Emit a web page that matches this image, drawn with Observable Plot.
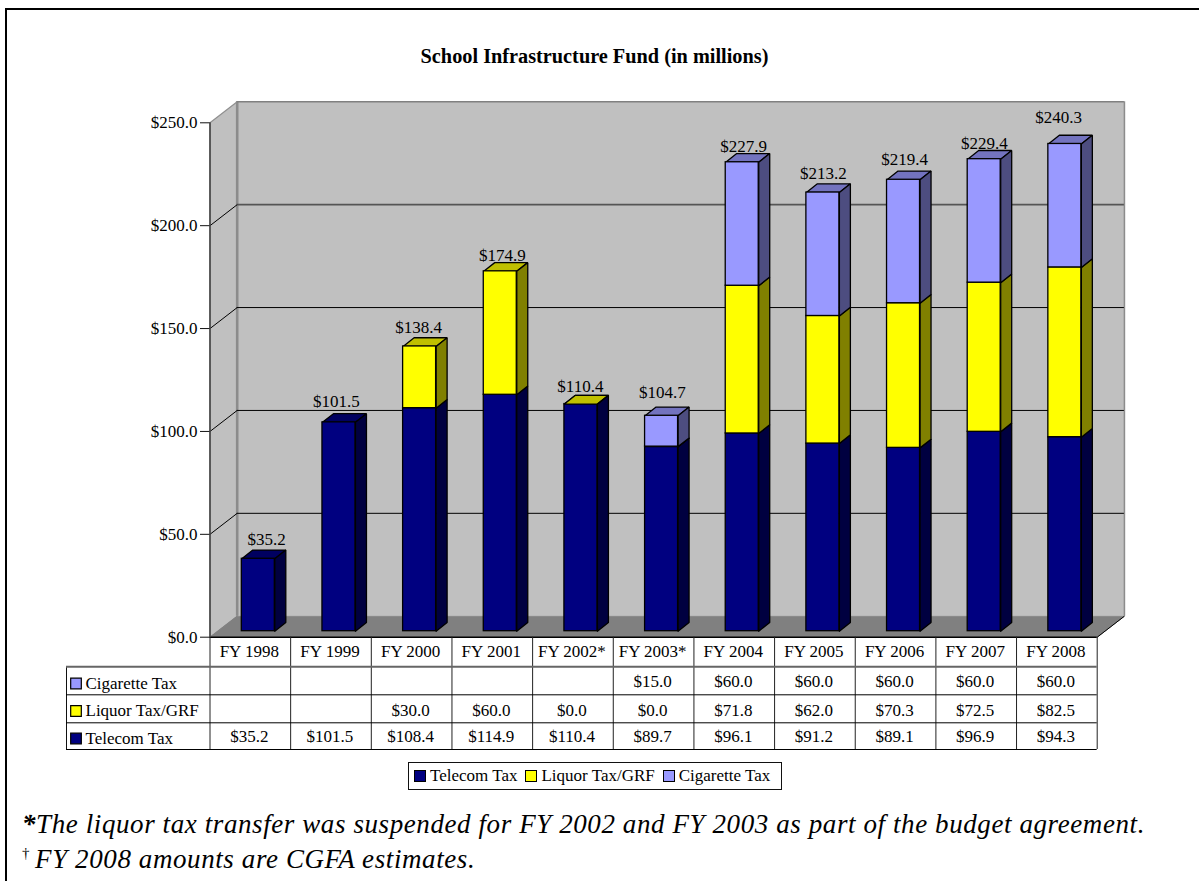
<!DOCTYPE html>
<html>
<head>
<meta charset="utf-8">
<script src="https://cdn.jsdelivr.net/npm/d3@7"></script>
<script src="https://cdn.jsdelivr.net/npm/@observablehq/plot@0.6"></script>
<style>
  html, body { margin: 0; padding: 0; background: #fff; }
  #page { position: relative; width: 1199px; height: 882px; overflow: hidden; font-family: "Liberation Serif", serif; color: #000; }
  #edgeTop { position: absolute; left: 5px; right: 0; top: 8px; height: 2px; background: #000; }
  #edgeLeft { position: absolute; left: 5px; top: 8px; bottom: 1px; width: 2px; background: #000; }
  #title { position: absolute; left: 0; width: 1189px; top: 46px; text-align: center; font-weight: bold; font-size: 20.3px; line-height: 20px; }
  #chart { position: absolute; left: 0; top: 90px; }
  #chart svg { display: block; }
  #legend { position: absolute; left: 408px; top: 762px; width: 372px; height: 26px; border: 1px solid #111; display: flex; align-items: center; font-size: 17px; }
  #legend .item { display: flex; align-items: center; margin-left: 5px; margin-right: 3px; }
  #legend .swatch { width: 10px; height: 10px; border: 1px solid #000; margin-right: 4px; }
  #notes { position: absolute; left: 22px; top: 807px; font-style: italic; font-size: 27px; letter-spacing: 0.59px; line-height: 35px; white-space: nowrap; }
  #notes b { font-style: italic; }
  #notes sup { font-size: 15px; font-style: normal; line-height: 0; margin-right: 5px; }
</style>
</head>
<body>
<div id="page">
  <div id="edgeTop"></div>
  <div id="edgeLeft"></div>
  <div id="title">School Infrastructure Fund (in millions)</div>
  <div id="chart"></div>
  <div id="legend"></div>
  <div id="notes">
    <div><b>*</b>The liquor tax transfer was suspended for FY 2002 and FY 2003 as part of the budget agreement.</div>
    <div><sup>†</sup>FY 2008 amounts are CGFA estimates.</div>
  </div>
</div>
<script>
// Fund revenue by fiscal year, in millions of dollars.
const fiscalYears = ["FY 1998", "FY 1999", "FY 2000", "FY 2001", "FY 2002*", "FY 2003*", "FY 2004", "FY 2005", "FY 2006", "FY 2007", "FY 2008"];
const telecomTax = [35.2, 101.5, 108.4, 114.9, 110.4, 89.7, 96.1, 91.2, 89.1, 96.9, 94.3];
const liquorTax = [null, null, 30.0, 60.0, 0.0, 0.0, 71.8, 62.0, 70.3, 72.5, 82.5];
const cigaretteTax = [null, null, null, null, null, 15.0, 60.0, 60.0, 60.0, 60.0, 60.0];
const statedTotals = [35.2, 101.5, 138.4, 174.9, 110.4, 104.7, 227.9, 213.2, 219.4, 229.4, 240.3];
const axisTicks = [0, 50, 100, 150, 200, 250];

const money = v => v == null ? "" : "$" + v.toFixed(1);

// Series in stacking order, with front, side and top shades of each colour.
const series = [
  {name: "Telecom Tax", values: telecomTax, front: "#000080", side: "#000040", top: "#000060"},
  {name: "Liquor Tax/GRF", values: liquorTax, front: "#ffff00", side: "#808000", top: "#c0c000"},
  {name: "Cigarette Tax", values: cigaretteTax, front: "#9999ff", side: "#4d4d80", top: "#7373bf"}
];

// Plot frame in pixels, and conversions from pixels to data units.
const frame = {width: 1199, height: 670, left: 209.5, right: 1096.7, top: 32.3, bottom: 546.7};
const slots = px => px * 11 / (frame.right - frame.left);
const dollars = px => px * 250 / (frame.bottom - frame.top);

// Box depth of the plot walls and of the bars, and where a bar sits in its slot.
const wallX = slots(27.2), wallY = dollars(21);
const barX = slots(11), barY = dollars(8.7);
const barLeft = slots(31.8), barWidth = slots(33), barFloor = dollars(6);

// Table rows sit below the zero line, measured in pixels under it.
const under = px => -dollars(px);
const rows = [
  {name: "Cigarette Tax", values: cigaretteTax, front: "#9999ff", center: 44, key: 46.3, text: 51.6},
  {name: "Liquor Tax/GRF", values: liquorTax, front: "#ffff00", center: 73, key: 73.8, text: 78.6},
  {name: "Telecom Tax", values: telecomTax, front: "#000080", center: 99.7, key: 101.3, text: 106.6}
];
const tableLeft = slots(66 - frame.left);
const rowRules = [57.6, 85.6, 112.3];

// Small per-label adjustments of the total labels, in pixels.
const totalNudgeX = [8.2, -2.5, -0.9, 2.2, -0.5, 0.9, 1.3, 0.5, 1, 0.3, -6.3];
const totalGap = [5, 7, 4.6, 1.3, 3.3, 9, 2, 5, 5.7, 1.7, 5.5];

const closed = pts => [...pts, pts[0]];
const barFaces = s => {
  const front = [], side = [], top = [];
  s.values.forEach((v, i) => {
    if (v == null) return;
    const base = series.slice(0, series.indexOf(s)).reduce((sum, o) => sum + (o.values[i] ?? 0), 0) + barFloor;
    const head = base + v;
    const x1 = i + barLeft, x2 = x1 + barWidth;
    front.push({x1, x2, y1: base, y2: head});
    closed([[x2, base], [x2 + barX, base + barY], [x2 + barX, head + barY], [x2, head]])
      .forEach(([x, y]) => side.push({x, y, id: i}));
    closed([[x1, head], [x2, head], [x2 + barX, head + barY], [x1 + barX, head + barY]])
      .forEach(([x, y]) => top.push({x, y, id: i}));
  });
  return {front, side, top};
};

const barStroke = {stroke: "#000", strokeWidth: 1.3, strokeLinejoin: "miter"};
const barMarks = series.flatMap(s => {
  const f = barFaces(s);
  return [
    Plot.line(f.top, {x: "x", y: "y", z: "id", fill: s.top, ...barStroke}),
    Plot.line(f.side, {x: "x", y: "y", z: "id", fill: s.side, ...barStroke}),
    Plot.rect(f.front, {x1: "x1", x2: "x2", y1: "y1", y2: "y2", fill: s.front, ...barStroke})
  ];
});

const leftWall = closed([[0, 0], [0, 250], [wallX, 250 + wallY], [wallX, wallY]]).map(([x, y]) => ({x, y}));
const floor = closed([[0, 0], [11, 0], [11 + wallX, wallY], [wallX, wallY]]).map(([x, y]) => ({x, y}));
const gridTicks = axisTicks.filter(t => t > 0 && t < 200);
const slotEdges = d3.range(12);
const indices = fiscalYears.map((_, i) => i);
const tableFont = {fontSize: 17, fill: "#000"};
const cellX = i => i + 0.5 - slots(1);

const chart = Plot.plot({
  width: frame.width,
  height: frame.height,
  marginLeft: frame.left,
  marginRight: frame.width - frame.right,
  marginTop: frame.top,
  marginBottom: frame.height - frame.bottom,
  style: {background: "transparent", fontFamily: "'Liberation Serif', serif", overflow: "visible"},
  x: {domain: [0, 11], axis: null},
  y: {domain: [0, 250]},
  marks: [
    // Walls and floor of the plot box.
    Plot.rect([0], {x1: wallX, x2: 11 + wallX, y1: wallY, y2: 250 + wallY, fill: "#c0c0c0"}),
    Plot.line(leftWall, {x: "x", y: "y", fill: "#c0c0c0", stroke: "#909090", strokeWidth: 1.2}),
    Plot.line(floor, {x: "x", y: "y", fill: "#808080", stroke: "#808080", strokeWidth: 1}),
    Plot.ruleX([wallX], {y1: wallY, y2: 250 + wallY, stroke: "#8c8c8c", strokeWidth: 2.6}),
    Plot.ruleX([11 + wallX], {y1: wallY, y2: 250 + wallY, stroke: "#8c8c8c", strokeWidth: 1.6}),
    Plot.ruleY([250 + wallY], {x1: wallX, x2: 11 + wallX, stroke: "#808080", strokeWidth: 1.6}),
    Plot.link([[11, 0, 11 + wallX, wallY]], {x1: "0", y1: "1", x2: "2", y2: "3", stroke: "#000", strokeWidth: 1}),

    // Gridlines across the back wall and down the side wall.
    Plot.ruleY(gridTicks, {x1: wallX, x2: 11 + wallX, y: t => t + wallY, stroke: "#000", strokeWidth: 1}),
    Plot.ruleY([200], {x1: wallX, x2: 11 + wallX, y: t => t + wallY, stroke: "#555", strokeWidth: 1.7}),
    Plot.link([...gridTicks, 200], {x1: 0, y1: t => t, x2: wallX, y2: t => t + wallY, stroke: "#000", strokeWidth: 1}),

    // The stacked columns.
    ...barMarks,

    // Stated totals above the columns.
    Plot.text(indices, {
      x: i => i + barLeft + barWidth / 2 + slots(totalNudgeX[i]),
      y: i => statedTotals[i] + barFloor + barY + dollars(totalGap[i]),
      text: i => money(statedTotals[i]),
      lineAnchor: "bottom",
      ...tableFont
    }),

    // Data table under the plot box.
    Plot.ruleY([0], {x1: 0, x2: 11, stroke: "#000", strokeWidth: 1.6}),
    Plot.ruleX(slotEdges, {y1: 0, y2: under(rowRules[2]), stroke: "#222", strokeWidth: 1}),
    Plot.ruleX([tableLeft], {y1: under(29.5), y2: under(rowRules[2]), stroke: "#111", strokeWidth: 1}),
    Plot.ruleY([under(29.5)], {x1: tableLeft, x2: 11, stroke: "#666", strokeWidth: 2}),
    Plot.ruleY(rowRules, {y: under, x1: tableLeft, x2: 11, stroke: "#000", strokeWidth: 1}),
    Plot.text(indices, {x: cellX, y: under(14.6), text: i => fiscalYears[i], ...tableFont}),
    ...rows.flatMap(r => [
      Plot.text(indices, {x: cellX, y: under(r.center), text: i => money(r.values[i]), ...tableFont}),
      Plot.dot([r], {x: slots(75.5 - frame.left), y: under(r.key), symbol: "square", r: 6, fill: r.front, stroke: "#000", strokeWidth: 1.2}),
      Plot.text([r.name], {x: slots(85 - frame.left), y: under(r.text), text: d => d, textAnchor: "start", lineAnchor: "bottom", ...tableFont})
    ]),

    // Value axis along the front edge.
    Plot.ruleX([0], {y1: 0, y2: 250, stroke: "#444", strokeWidth: 1.6}),
    Plot.axisY({ticks: axisTicks, tickFormat: money, tickSize: 9.5, tickPadding: 3, label: null, fontSize: 17, stroke: "#111", fill: "#000"})
  ]
});
document.getElementById("chart").appendChild(chart);

// Legend beneath the table.
const legend = d3.select("#legend");
series.forEach(s => {
  const item = legend.append("div").attr("class", "item");
  item.append("div").attr("class", "swatch").style("background", s.front);
  item.append("div").text(s.name);
});
</script>
</body>
</html>
